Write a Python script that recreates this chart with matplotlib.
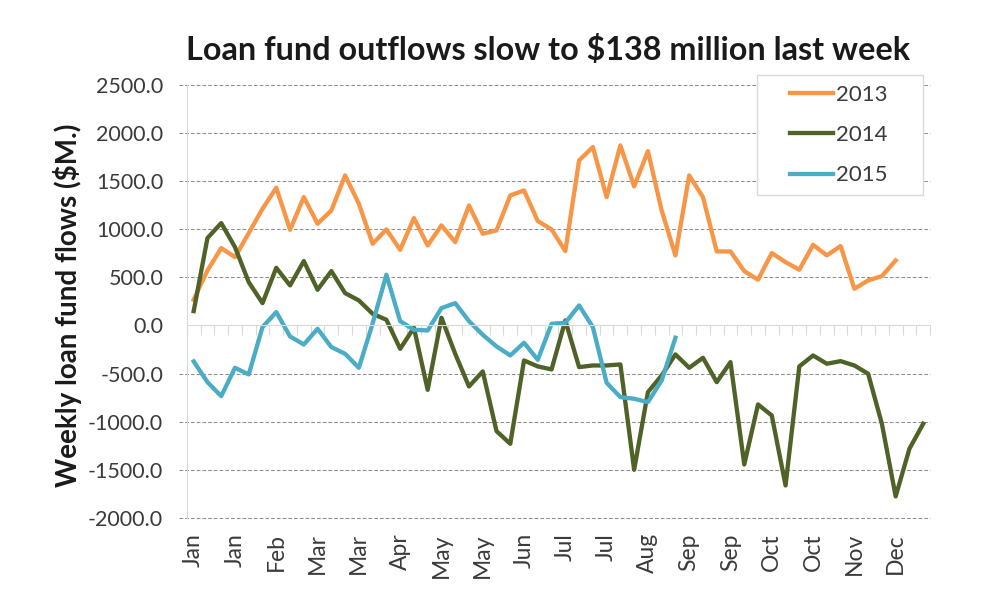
import numpy as np
import matplotlib.pyplot as plt
from matplotlib.patches import Rectangle

# weekly loan fund flows, $M
flows_2013 = [267, 572, 804, 710, 960, 1213, 1431, 994, 1334, 1057,
              1195, 1559, 1265, 849, 998, 786, 1116, 832, 1040, 866,
              1247, 953, 988, 1351, 1403, 1085, 998, 773, 1715, 1854,
              1334, 1871, 1445, 1812, 1195, 728, 1559, 1334, 769, 769,
              565, 475, 752, 658, 579, 838, 728, 825, 381, 468,
              513, 676]
flows_2014 = [149, 908, 1064, 814, 450, 232, 599, 416, 669, 371,
              565, 336, 260, 121, 59, -243, -24, -669, 80, -295,
              -634, -478, -1098, -1230, -364, -426, -457, 52, -433, -416,
              -416, -405, -1500, -693, -520, -301, -440, -336, -589, -381,
              -1445, -821, -936, -1663, -426, -312, -398, -371, -416, -502,
              -1022, -1777, -1282, -1022]
flows_2015 = [-374, -589, -735, -440, -509, -17, 139, -114, -198, -35,
              -225, -295, -440, 20, 527, 45, -45, -52, 180, 232,
              45, -97, -218, -312, -180, -357, 17, 28, 208, -17,
              -596, -745, -762, -797, -572, -128]

n_weeks = 54
month_labels = ["Jan", "Jan", "Feb", "Mar", "Mar", "Apr", "May", "May", "Jun",
                "Jul", "Jul", "Aug", "Sep", "Sep", "Oct", "Oct", "Nov", "Dec"]
y_ticks = [2500, 2000, 1500, 1000, 500, 0, -500, -1000, -1500, -2000]

plt.rcParams['font.family'] = ['Lato', 'DejaVu Sans']
text_col = '#3a3a3a'

fig = plt.figure(figsize=(9.99, 5.98), dpi=100)
ax = fig.add_axes([0.187, 0.134, 0.744, 0.724])

ax.plot(np.arange(len(flows_2013)), flows_2013, color='#F79646', lw=3.1, label='2013')
ax.plot(np.arange(len(flows_2014)), flows_2014, color='#4F6228', lw=3.1, label='2014')
ax.plot(np.arange(len(flows_2015)), flows_2015, color='#4BACC6', lw=3.1, label='2015')

ax.set_xlim(-0.5, n_weeks - 0.5)
ax.set_ylim(-2000, 2500)

# y axis: dashed gridlines reaching a little past the left spine
ax.set_yticks(y_ticks)
ax.set_yticklabels([f"{v:.1f}" for v in y_ticks], fontsize=15.5, color=text_col)
ax.tick_params(axis='y', length=0, pad=17)
ax.hlines([v for v in y_ticks if v != 0], -0.011, 1, transform=ax.get_yaxis_transform(),
          colors='#8c8c8c', linestyles=[(0, (3.5, 2))], lw=0.75, clip_on=False, zorder=0.5)

# category axis sits on zero, labels at the bottom
ax.spines['bottom'].set_position(('data', 0))
ax.spines['bottom'].set_color('#d9d9d9')
ax.spines['left'].set_color('#d9d9d9')
ax.spines['top'].set_visible(False)
ax.spines['right'].set_visible(False)
ax.set_xticks(np.arange(-0.5, n_weeks, 1))
ax.tick_params(axis='x', length=7, color='#d9d9d9', labelbottom=False)

sec = ax.secondary_xaxis('bottom')
sec.set_xticks(np.arange(0, n_weeks, 3))
sec.set_xticklabels(month_labels, rotation=90, fontsize=16.5, color=text_col, va='top')
sec.tick_params(length=0, pad=11)
sec.spines['bottom'].set_visible(False)

# legend box drawn separately (wide side padding like the original)
ax.add_patch(Rectangle((757 / 999, 1 - 195 / 598), 165.7 / 999, 120 / 598,
                       transform=fig.transFigure, facecolor='white',
                       edgecolor='#d9d9d9', lw=1, clip_on=False, zorder=4.5))
leg = ax.legend(loc='center left', bbox_to_anchor=(790 / 999, 1 - 135 / 598),
                bbox_transform=fig.transFigure, fontsize=16, frameon=False,
                handlelength=1.95, handletextpad=0.14, labelspacing=0.92,
                borderpad=0, borderaxespad=0)
leg.set_zorder(5)
for t in leg.get_texts():
    t.set_color(text_col)

fig.text(0.549, 1 - 60 / 598, "Loan fund outflows slow to $138 million last week",
         ha='center', va='baseline', fontsize=23.3, fontweight='bold', color='#1a1a1a')
fig.text(0.068, 0.49, "Weekly loan fund flows ($M.)", rotation=90,
         ha='center', va='center', fontsize=20, fontweight='bold', color='#1a1a1a')

fig.savefig('out.png', dpi=100)
